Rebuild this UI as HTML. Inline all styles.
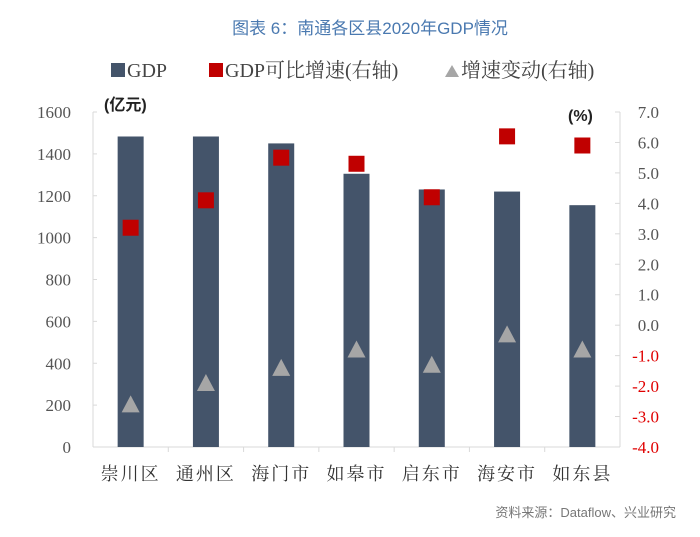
<!DOCTYPE html>
<html><head><meta charset="utf-8"><style>
body{margin:0;background:#fff;}
svg{display:block;}
</style></head><body>
<svg id="chart" width="700" height="537" viewBox="0 0 700 537" xmlns="http://www.w3.org/2000/svg">
<text x="370" y="34" text-anchor="middle" font-family="'Liberation Sans','Noto Sans CJK SC',sans-serif" font-size="17" fill="#4a79b0">图表 6：南通各区县2020年GDP情况</text>
<g font-family="'Liberation Serif','Noto Serif CJK SC',serif" font-size="20" fill="#444">
<rect x="111" y="63" width="14" height="14" fill="#44546a"/>
<text x="127" y="77">GDP</text>
<rect x="209" y="63" width="14" height="14" fill="#c00000"/>
<text x="225" y="77">GDP可比增速(右轴)</text>
<polygon points="445,77 459,77 452,65" fill="#a6a6a6"/>
<text x="461" y="77">增速变动(右轴)</text>
</g>
<text x="104" y="110" font-family="'Liberation Sans','Noto Sans CJK SC',sans-serif" font-size="16" font-weight="bold" fill="#222">(亿元)</text>
<text x="568" y="121" font-family="'Liberation Sans',sans-serif" font-size="16" font-weight="bold" fill="#222">(%)</text>
<g id="plot"></g>
<text x="676" y="517" text-anchor="end" font-family="'Liberation Sans','Noto Sans CJK SC',sans-serif" font-size="13" fill="#777">资料来源：Dataflow、兴业研究</text>
</svg>
<script>
const categories=["崇川区","通州区","海门市","如皋市","启东市","海安市","如东县"];
const gdpValues=[1483,1483,1450,1305,1230,1220,1155];
const growthValues=[3.2,4.1,5.5,5.3,4.2,6.2,5.9];
const changeValues=[-2.6,-1.9,-1.4,-0.8,-1.3,-0.3,-0.8];
const leftTicks=[0,200,400,600,800,1000,1200,1400,1600];
const rightTicks=[-4,-3,-2,-1,0,1,2,3,4,5,6,7];

const NS="http://www.w3.org/2000/svg";
const X0=93,X1=620,Y0=447,Y1=112;
const band=(X1-X0)/categories.length;
const xc=i=>X0+band*(i+0.5);
const yL=v=>Y0-(v-0)/1600*(Y0-Y1);
const yR=v=>Y0-(v+4)/11*(Y0-Y1);
const g=document.getElementById('plot');
function mk(tag,attrs){const e=document.createElementNS(NS,tag);for(const k in attrs)e.setAttribute(k,attrs[k]);g.appendChild(e);return e;}

let e;
e=mk('line',{x1:X0,y1:Y1,x2:X0,y2:Y0,stroke:'#d9d9d9'});


e=mk('line',{x1:X1,y1:Y1,x2:X1,y2:Y0,stroke:'#d9d9d9'});


e=mk('line',{x1:X0,y1:Y0,x2:X1,y2:Y0,stroke:'#d9d9d9'});



leftTicks.forEach(v=>{
  const y=yL(v);
  mk('line',{x1:X0,y1:y,x2:X0+4,y2:y,stroke:'#d9d9d9'});
  e=mk('text',{x:X0-22,y:y+6,'text-anchor':'end','font-family':"'Liberation Serif',serif",'font-size':17,fill:'#555'});
  e.textContent=v;
  
  
});
rightTicks.forEach(v=>{
  const y=yR(v);
  mk('line',{x1:X1-5,y1:y,x2:X1,y2:y,stroke:'#d9d9d9'});
  e=mk('text',{x:X1+39,y:y+6,'text-anchor':'end','font-family':"'Liberation Serif',serif",'font-size':17,fill:v<0?'#e00000':'#555'});
  e.textContent=v.toFixed(1);
  
  
});
for(let i=1;i<categories.length;i++){
  mk('line',{x1:X0+band*i,y1:Y0,x2:X0+band*i,y2:Y0+5,stroke:'#d9d9d9'});
}
categories.forEach((c,i)=>{
  const bw=26;
  e=mk('rect',{x:xc(i)-bw/2,y:yL(gdpValues[i]),width:bw,height:Y0-yL(gdpValues[i]),fill:'#44546a'});
  
  
  e=mk('text',{x:xc(i),y:480,'text-anchor':'middle','font-family':"'Liberation Serif','Noto Serif CJK SC',serif",'font-size':18,fill:'#333','letter-spacing':'2'});
  e.textContent=c;
  
  
});
categories.forEach((c,i)=>{
  const y=yR(growthValues[i]);
  e=mk('rect',{x:xc(i)-8,y:y-8,width:16,height:16,fill:'#c00000'});
  
  
  const t=yR(changeValues[i]);
  e=mk('polygon',{points:`${xc(i)-9},${t+8} ${xc(i)+9},${t+8} ${xc(i)},${t-9}`,fill:'#a6a6a6'});
  
  
});
</script>
</body></html>
